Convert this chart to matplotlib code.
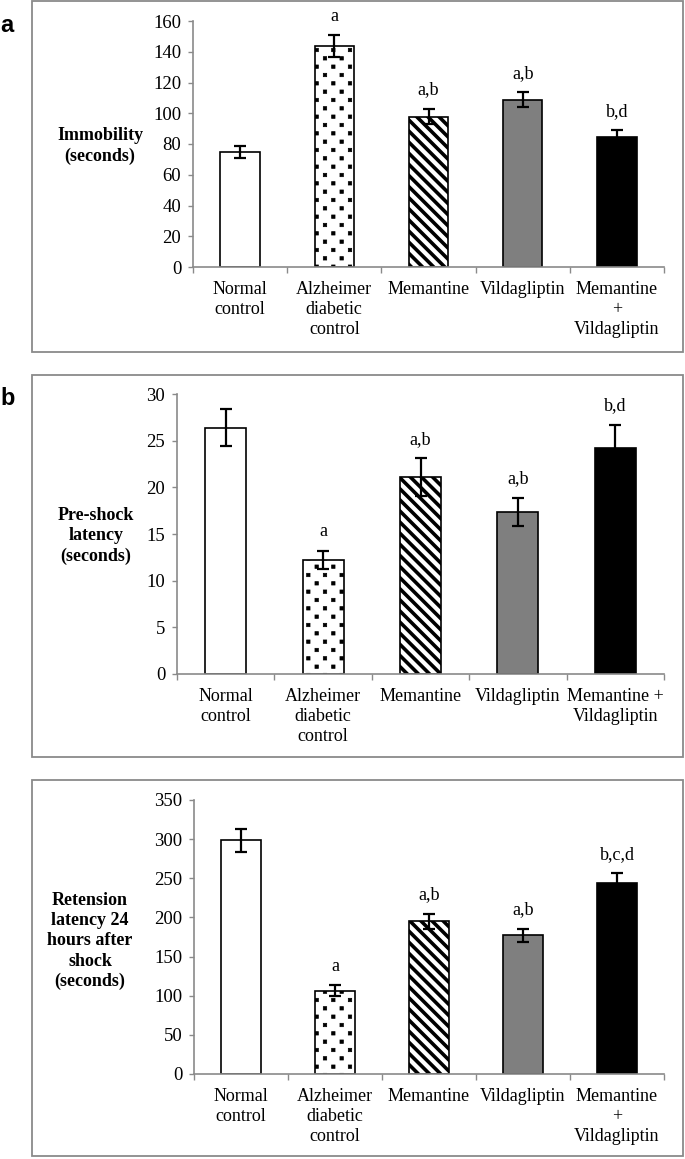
import numpy as np
import matplotlib
matplotlib.use("Agg")
import matplotlib.pyplot as plt
import matplotlib.hatch as mhatch
from matplotlib.path import Path
from matplotlib.patches import Rectangle
from matplotlib.ticker import FixedLocator

# ---- data -------------------------------------------------------------
groups = ["Normal\ncontrol", "Alzheimer\ndiabetic\ncontrol", "Memantine",
          "Vildagliptin", "Memantine\n+\nVildagliptin"]
groups_b = ["Normal\ncontrol", "Alzheimer\ndiabetic\ncontrol", "Memantine",
            "Vildagliptin", "Memantine +\nVildagliptin"]

immobility = [74.7, 143.5, 97.8, 108.8, 84.8]
immobility_err = [3.8, 7.2, 5.0, 4.8, 4.0]
immobility_sig = ["", "a", "a,b", "a,b", "b,d"]

preshock = [26.4, 12.2, 21.1, 17.4, 24.2]
preshock_err = [2.0, 1.0, 2.0, 1.5, 2.5]
preshock_sig = ["", "a", "a,b", "a,b", "b,d"]

retention = [298.5, 106.5, 195.0, 177.0, 244.5]
retention_err = [15.0, 7.0, 10.0, 8.5, 12.0]
retention_sig = ["", "a", "a,b", "a,b", "b,c,d"]


# Excel-style dotted fill: small squares, rows twice as dense as columns
class StaggeredSquares(mhatch.HatchPatternBase):
    filled = True
    half = 0.017

    def __init__(self, hatch, density):
        self.n = hatch.count('.') * density
        self.num_shapes = (self.n + 1) ** 2 + self.n ** 2 if self.n else 0
        self.num_vertices = self.num_shapes * 5

    def set_vertices_and_codes(self, vertices, codes):
        n, h = self.n, self.half
        sq = np.array([[-h, -h], [h, -h], [h, h], [-h, h], [-h, -h]])
        centers = []
        for row in range(2 * n + 1):
            y = row / (2 * n)
            if row % 2:
                xs = np.linspace(0.5 / n, 1 - 0.5 / n, n)
            else:
                xs = np.linspace(0, 1, n + 1)
            centers += [(x, y) for x in xs]
        centers = np.array(centers)
        vertices[:] = (sq[None, :, :] + centers[:, None, :]).reshape(-1, 2)
        codes[:] = np.tile([Path.MOVETO, Path.LINETO, Path.LINETO,
                            Path.LINETO, Path.CLOSEPOLY], len(centers))


mhatch._hatch_types = [StaggeredSquares if t is mhatch.SmallFilledCircles else t
                       for t in mhatch._hatch_types]

plt.rcParams['font.family'] = ['Liberation Serif', 'DejaVu Serif']
plt.rcParams['hatch.linewidth'] = 2.6
plt.rcParams['hatch.color'] = 'black'

W, H = 685, 1159
fig = plt.figure(figsize=(W / 100, H / 100), dpi=100)

GRAY = '#8a8a8a'
faces = ['white', 'white', 'white', '#7f7f7f', 'black']
hatches = ['', '.', '\\\\\\', '', '']


def px_axes(left, right, top, bottom):
    return fig.add_axes([left / W, 1 - bottom / H, (right - left) / W, (bottom - top) / H])


def panel(box, axbox, labels, vals, errs, sig, ymax, ystep, ylabel, ylab_xy):
    # grey frame around the panel
    x0, y0, x1, y1 = box
    fig.add_artist(Rectangle((x0 / W, 1 - y1 / H), (x1 - x0) / W, (y1 - y0) / H,
                             transform=fig.transFigure, fill=False,
                             edgecolor=GRAY, linewidth=1.3))
    ax = px_axes(*axbox)
    x = np.arange(len(vals))
    bars = ax.bar(x, vals, width=0.42, color=faces, edgecolor='black',
                  linewidth=1.2, zorder=2)
    for b, h in zip(bars, hatches):
        b.set_hatch(h)
        if hasattr(b, 'set_hatch_linewidth'):
            b.set_hatch_linewidth(2.6 if h.startswith('\\') else 0.5)
    ax.errorbar(x, vals, yerr=errs, fmt='none', ecolor='black', elinewidth=1.6,
                capsize=4, capthick=1.6, zorder=3)
    for xi, v, e, s in zip(x, vals, errs, sig):
        if s:
            ax.annotate(s, (xi, v + e), xytext=(0, 10.5), textcoords='offset points',
                        ha='center', va='baseline', fontsize=13)

    ax.set_xlim(-0.5, len(vals) - 0.5)
    ax.set_ylim(0, ymax)
    ax.set_yticks(np.arange(0, ymax + ystep / 2, ystep))
    ax.set_xticks(x)
    ax.set_xticklabels(labels, fontsize=13, linespacing=1.22)
    ax.xaxis.set_minor_locator(FixedLocator(np.arange(-0.5, len(vals), 1.0)))
    ax.tick_params(axis='x', which='major', length=0, pad=10)
    ax.tick_params(axis='x', which='minor', length=4, width=1, color=GRAY, direction='out')
    ax.tick_params(axis='y', length=3.5, width=1, color=GRAY, direction='out',
                   labelsize=13.5, pad=5)
    for side in ['top', 'right']:
        ax.spines[side].set_visible(False)
    for side in ['left', 'bottom']:
        ax.spines[side].set_color(GRAY)
        ax.spines[side].set_linewidth(1.2)
    ax.patch.set_alpha(0)

    fig.text(ylab_xy[0] / W, 1 - ylab_xy[1] / H, ylabel, ha='center', va='center',
             fontsize=13, fontweight='bold', multialignment='center', linespacing=1.25)
    return ax


panel((32, 1, 683, 352), (193, 664, 21, 267), groups, immobility, immobility_err,
      immobility_sig, 160, 20, "Immobility\n(seconds)", (100, 146))
panel((32, 375, 683, 757), (177, 664, 394, 674), groups_b, preshock, preshock_err,
      preshock_sig, 30, 5, "Pre-shock\nlatency\n(seconds)", (96, 536))
panel((32, 780, 683, 1156), (194, 664, 800, 1074), groups, retention, retention_err,
      retention_sig, 350, 50, "Retension\nlatency 24\nhours after\nshock\n(seconds)", (90, 941))

fig.text(0 / W, 1 - 26 / H, 'a', ha='left', va='center', fontsize=17,
         fontweight='bold', family='Liberation Sans')
fig.text(0 / W, 1 - 398 / H, 'b', ha='left', va='center', fontsize=17,
         fontweight='bold', family='Liberation Sans')

fig.savefig('out.png', dpi=100)
